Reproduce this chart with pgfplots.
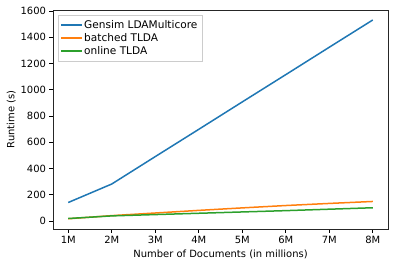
\documentclass[border=0pt]{standalone}
\usepackage{pgfplots}
\pgfplotsset{compat=1.18}
\usepackage{fontspec}
\setmainfont{DejaVu Sans}
\definecolor{cblue}{HTML}{1F77B4}
\definecolor{corange}{HTML}{FF7F0E}
\definecolor{cgreen}{HTML}{2CA02C}
\newcommand{\legline}[1]{\textcolor{#1}{\rule[-0.75bp]{21bp}{1.6bp}}}
\begin{document}
\fontsize{10}{12}\selectfont
\begin{tikzpicture}
\begin{axis}[
  name=ax,
  scale only axis,
  width=335bp, height=219bp,
  xmin=-0.35, xmax=7.35,
  ymin=-62, ymax=1608,
  xtick={0,...,7},
  xticklabels={1M,2M,3M,4M,5M,6M,7M,8M},
  ytick={0,200,...,1600},
  tick align=outside,
  tick pos=left,
  major tick length=3.5bp,
  every tick/.style={black, line width=0.6pt},
  axis line style={line width=0.6pt, black!85},
  /pgf/number format/assume math mode=true,
  /pgf/number format/1000 sep={},
  xlabel={Number of Documents (in millions)},
  ylabel={Runtime (s)},
  xlabel style={yshift=0bp},
  ylabel style={yshift=-2bp},
  legend cell align=left,
  legend style={font=\fontsize{10.6}{12}\selectfont, draw=black!20, inner sep=3pt, row sep=-0.5pt, at={(0.015,0.975)}, anchor=north west},
]
\addlegendimage{legend image code/.code={\node[inner sep=0pt, anchor=west] at (0,0) {\legline{cblue}};}}
\addlegendentry{Gensim LDAMulticore}
\addlegendimage{legend image code/.code={\node[inner sep=0pt, anchor=west] at (0,0) {\legline{corange}};}}
\addlegendentry{batched TLDA}
\addlegendimage{legend image code/.code={\node[inner sep=0pt, anchor=west] at (0,0) {\legline{cgreen}};}}
\addlegendentry{online TLDA}
\addplot[draw=cblue, line width=1.5bp, forget plot] coordinates {(0,140) (1,281) (2,490) (3,698) (4,907) (5,1115) (6,1324) (7,1532)};
\addplot[draw=corange, line width=1.5bp, forget plot] coordinates {(0,16) (1,40) (2,60) (3,80) (4,99) (5,117) (6,133) (7,148)};
\addplot[draw=cgreen, line width=1.5bp, forget plot] coordinates {(0,18) (1,38) (2,48) (3,58) (4,68) (5,78) (6,89) (7,100)};
\end{axis}
\pgfresetboundingbox
\path[use as bounding box] (ax.south west) ++(-53bp,-37bp) rectangle ++(395bp,266bp);
\end{tikzpicture}
\end{document}
